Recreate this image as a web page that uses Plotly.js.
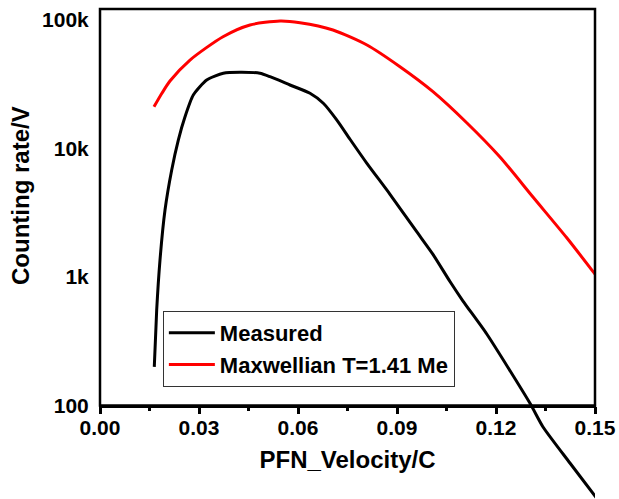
<!DOCTYPE html>
<html>
<head>
<meta charset="utf-8">
<script src="https://cdn.plot.ly/plotly-3.0.1.min.js"></script>
<style>
  html, body { margin: 0; padding: 0; background: #ffffff; }
  #wrap { position: relative; width: 619px; height: 499px; }
  #chart { width: 619px; height: 499px; }
  #frame { position: absolute; left: 98.75px; top: 7.75px; width: 497.5px; height: 399px;
           box-sizing: border-box; border: 2.5px solid #000000; pointer-events: none; }
</style>
</head>
<body>
<div id="wrap">
  <div id="chart"></div>
  <div id="frame"></div>
</div>
<script>
// Measured PFN spectrum (velocity / c, counting rate / V)
var velocityMeasured = [0.01645, 0.01718, 0.01818, 0.01970, 0.02173, 0.02373, 0.02576, 0.02827, 0.03233,
  0.03736, 0.04242, 0.04848, 0.05152, 0.05758, 0.06364, 0.06767, 0.07173, 0.07576, 0.08082, 0.08788,
  0.09597, 0.1009, 0.1061, 0.1100, 0.1172, 0.1303, 0.1342, 0.1424, 0.1505];
var countsMeasured = [200, 553, 1355, 3320, 6810, 11640, 17660, 26070, 34100,
  38500, 39200, 38500, 36200, 31200, 26900, 22500, 16700, 11800, 7700, 4400,
  2250, 1500, 918, 650, 360, 104, 68.4, 35.7, 19.0];

// Maxwellian T=1.41 MeV
var velocityMaxwell = [0.01636, 0.0188, 0.0212, 0.02727, 0.03727, 0.04545, 0.05455, 0.0606, 0.0706, 0.0809,
  0.0909, 0.1009, 0.1112, 0.1212, 0.1312, 0.1415, 0.1509];
var countsMaxwell = [21100, 27000, 33500, 48800, 74100, 91500, 98200, 95300, 83600, 63900,
  43300, 27700, 15800, 8590, 4190, 2010, 982];

var xTickVals = [0, 0.03, 0.06, 0.09, 0.12, 0.15];
var xTickText = ['0.00', '0.03', '0.06', '0.09', '0.12', '0.15'];
var yTickVals = [100, 1000, 10000, 100000];
var yTickText = ['100', '1k', '10k', '100k'];

var seriesNames = ['Measured', 'Maxwellian T=1.41 Me'];
var xTitle = 'PFN_Velocity/C';
var yTitle = 'Counting rate/V';

var fontFam = 'Arial, "Liberation Sans", sans-serif';

var traces = [
  {
    x: velocityMeasured, y: countsMeasured, name: seriesNames[0],
    type: 'scatter', mode: 'lines',
    line: { color: '#000000', width: 3, shape: 'spline', smoothing: 0.6 }
  },
  {
    x: velocityMaxwell, y: countsMaxwell, name: seriesNames[1],
    type: 'scatter', mode: 'lines',
    line: { color: '#ff0000', width: 3, shape: 'spline', smoothing: 0.7 }
  }
];

// plot area spans down to the page bottom so the measured curve may run below the frame
var H = 499, T = 9, B = 0, L = 100, R = 24;
var plotH = H - T - B, plotW = 619 - L - R;
var axisBottomPx = 405.5;
var frameBottom = (H - axisBottomPx) / plotH;
var yTop = 5.0856;
var decadePx = (axisBottomPx - T) / (yTop - 2);
var yBottom = 2 - (H - axisBottomPx) / decadePx;

var layout = {
  width: 619, height: 499,
  margin: { l: L, r: R, t: T, b: B },
  paper_bgcolor: '#ffffff',
  plot_bgcolor: '#ffffff',
  font: { family: fontFam, color: '#000000' },
  showlegend: true,
  legend: {
    x: 0.127, y: (H - 311) / plotH, xanchor: 'left', yanchor: 'top',
    bgcolor: '#ffffff', bordercolor: '#333333', borderwidth: 1,
    itemwidth: 46,
    font: { family: fontFam, size: 22, weight: 'bold', color: '#000000' },
    traceorder: 'normal'
  },
  shapes: [
    { type: 'rect', xref: 'paper', yref: 'paper', x0: 0, x1: 1, y0: frameBottom, y1: 1,
      line: { color: '#000000', width: 2.5 }, fillcolor: 'rgba(0,0,0,0)', layer: 'above' }
  ],
  annotations: [
    { xref: 'paper', yref: 'paper', x: (20 - L) / plotW, y: (H - 196) / plotH,
      xanchor: 'center', yanchor: 'middle', textangle: -90, showarrow: false,
      text: yTitle, font: { family: fontFam, size: 24, weight: 'bold', color: '#000000' } }
  ],
  xaxis: {
    range: [0, 0.15], anchor: 'free', position: frameBottom,
    tickvals: xTickVals, ticktext: xTickText,
    ticks: 'outside', ticklen: 7, tickwidth: 2.5, tickcolor: '#000000',
    ticklabelstandoff: -4,
    minor: { dtick: 0.015, tick0: 0, ticks: 'outside', ticklen: 4, tickwidth: 2.5, tickcolor: '#000000', showgrid: false },
    showline: true, linewidth: 2.5, linecolor: '#000000',
    showgrid: false, zeroline: false,
    tickfont: { family: fontFam, size: 21, weight: 'bold', color: '#000000' },
    title: { text: xTitle, font: { family: fontFam, size: 24, weight: 'bold', color: '#000000' }, standoff: 12 }
  },
  yaxis: {
    type: 'log', range: [yBottom, yTop], domain: [0, 1],
    tickvals: yTickVals, ticktext: yTickText,
    ticks: 'outside', ticklen: 6, tickcolor: 'rgba(0,0,0,0)',
    showline: false, showgrid: false, zeroline: false,
    tickfont: { family: fontFam, size: 21, weight: 'bold', color: '#000000' }
  }
};

Plotly.newPlot('chart', traces, layout, { displayModeBar: false });
</script>
</body>
</html>
